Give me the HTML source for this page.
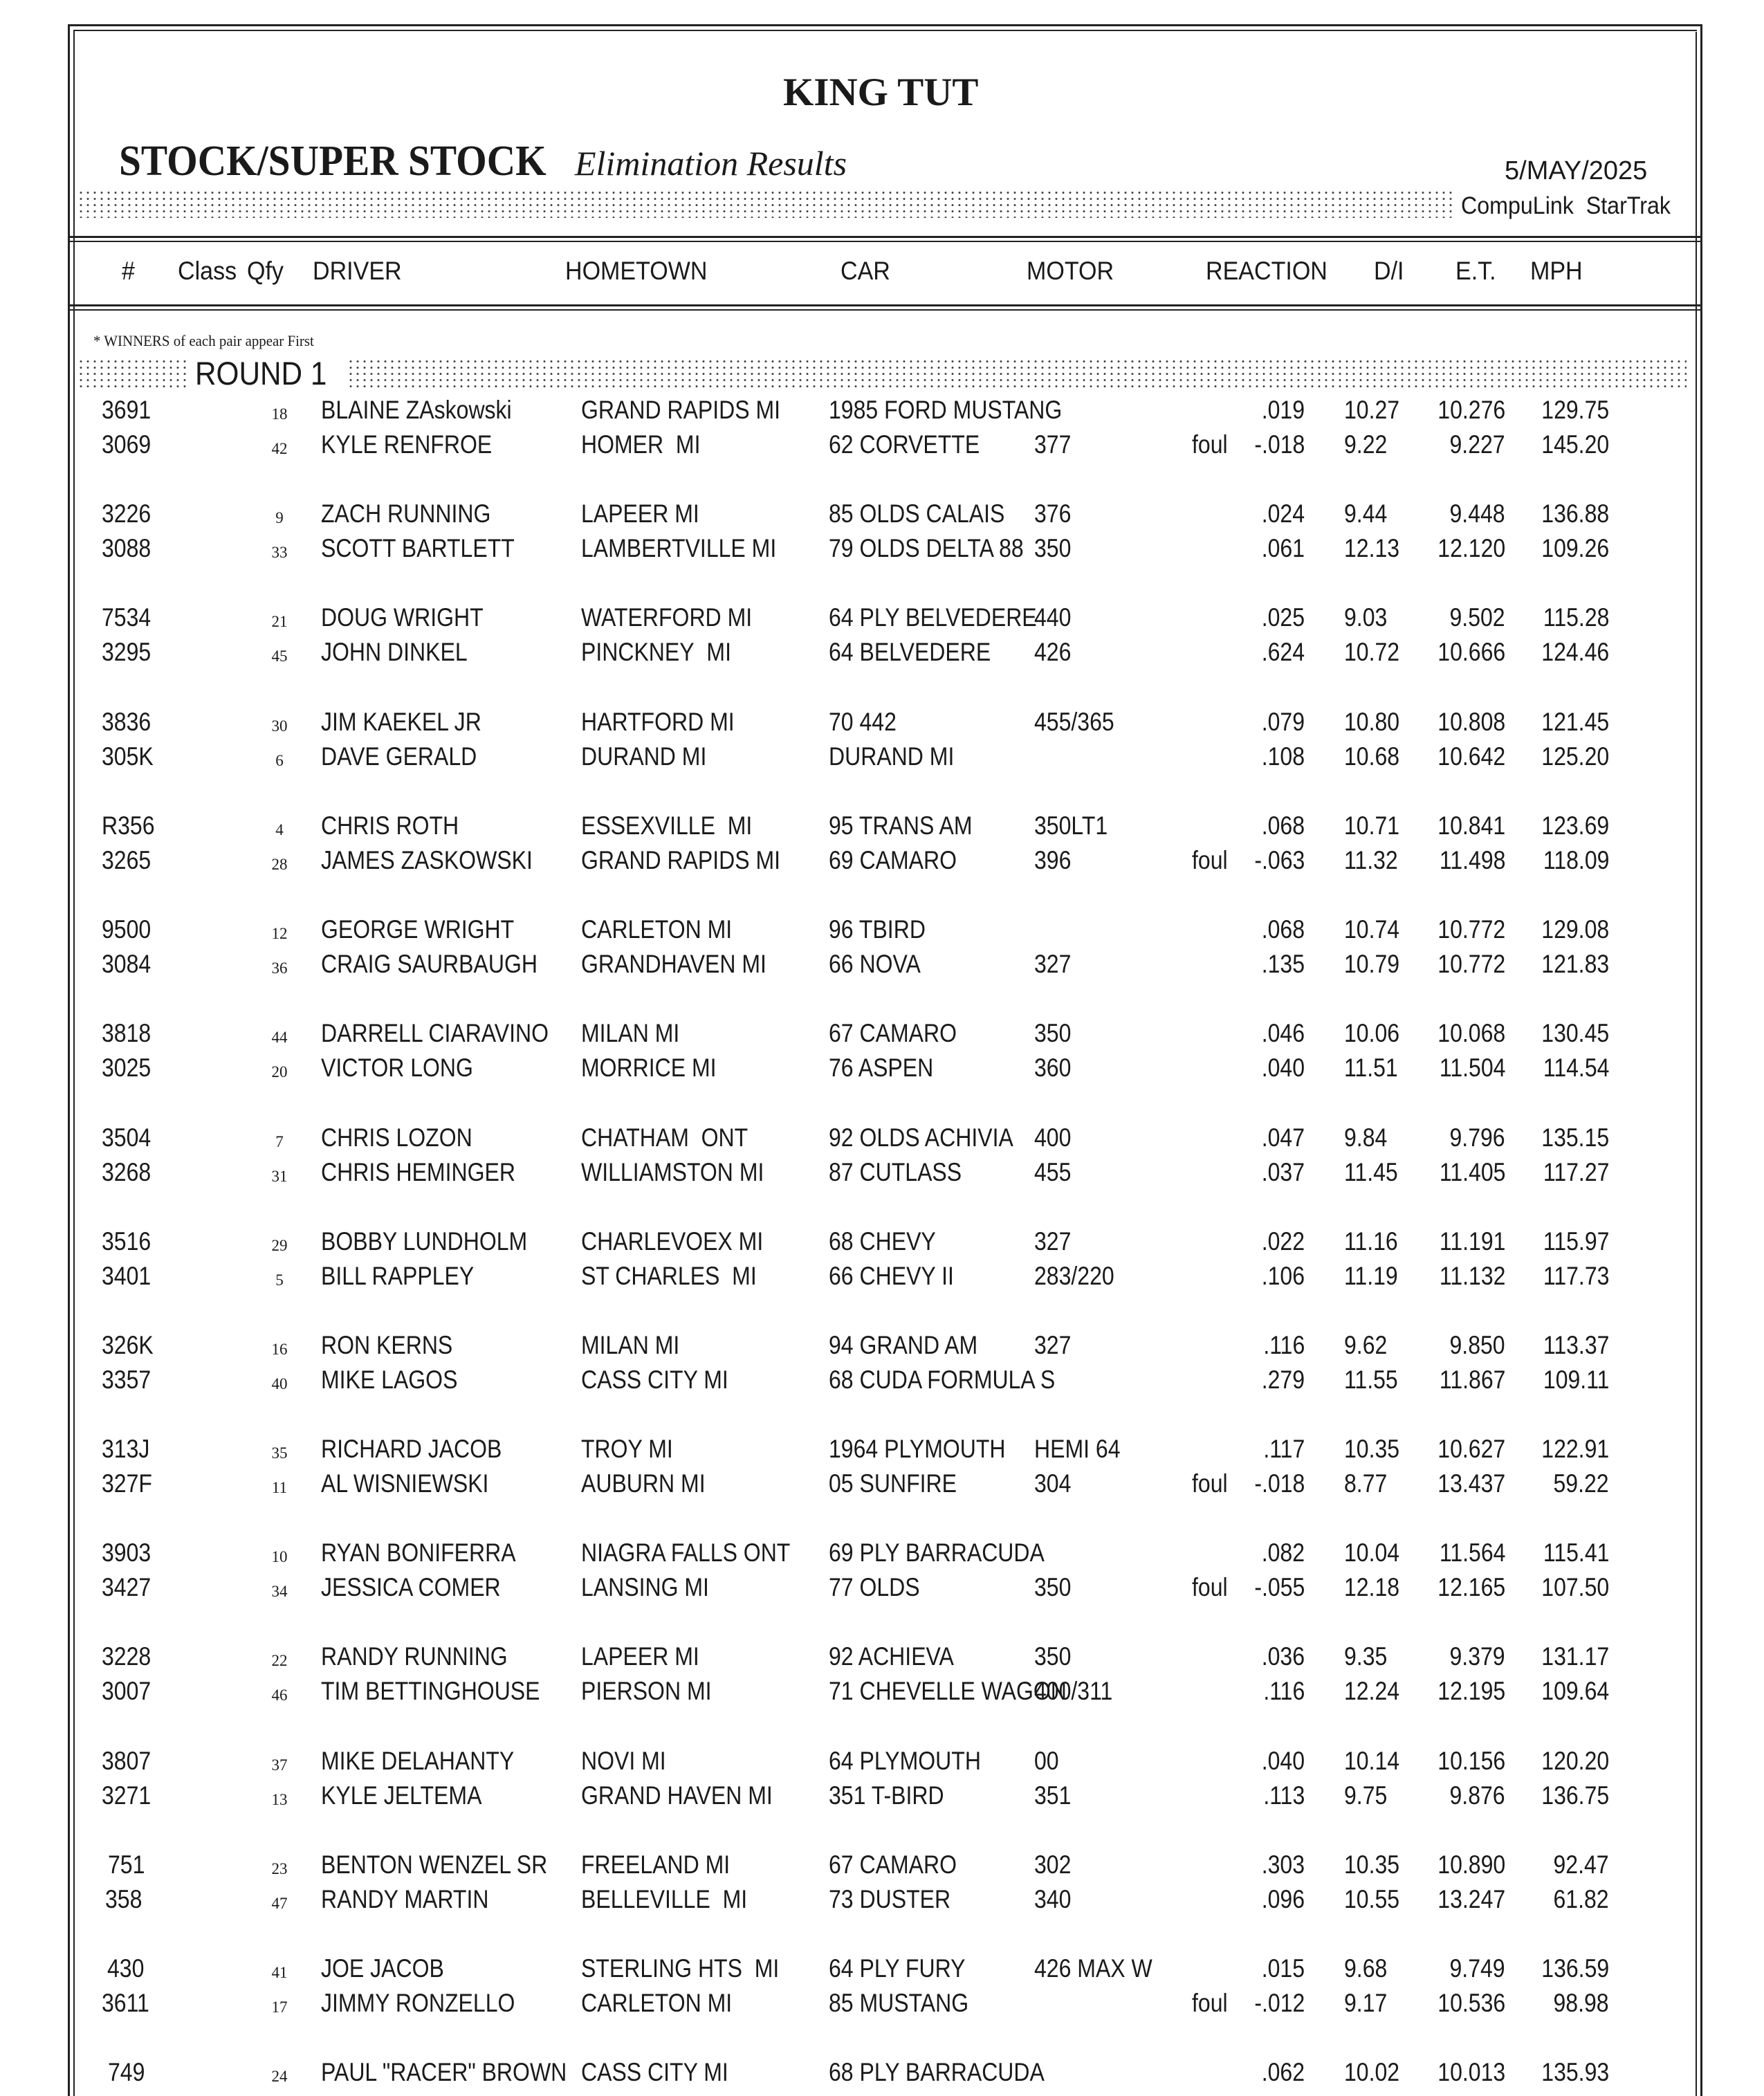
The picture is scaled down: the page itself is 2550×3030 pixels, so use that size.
<!DOCTYPE html>
<html><head><meta charset="utf-8"><style>
body{margin:0;background:#fff}
#p{position:relative;width:2550px;height:3030px;overflow:hidden;background:#fff;font-family:"Liberation Sans",sans-serif;color:#1a1a1a}
.a{position:absolute;white-space:nowrap}
.v{position:absolute;background:#222}
.dots{position:absolute;background-color:#fff;background-image:radial-gradient(circle,#444 1.3px,transparent 1.7px);background-size:10px 9px}
.r{position:absolute;left:0;width:2550px;height:42px;font-size:37px;line-height:42px}
.r span{position:absolute;top:0;display:inline-block;transform:scaleX(.865);transform-origin:left center}
.r .q{font-family:"Liberation Serif",serif;font-size:23px;left:374px;width:60px;text-align:center;transform:none;top:6px}
.r .n{left:147px}.r .d{left:464px}.r .h{left:840px}.r .c{left:1198px}.r .m{left:1495px}.r .f{left:1723px}
.r .re{right:664px;transform-origin:right center}.r .di{left:1943px}.r .et{right:374px;transform-origin:right center}.r .mp{right:224px;transform-origin:right center}
.hd{position:absolute;top:370px;font-size:37px;line-height:44px;transform:scaleX(.92);transform-origin:left center;white-space:nowrap}
</style></head><body><div id="p">
<div class="v" style="left:98px;top:35px;width:3px;height:2995px"></div>
<div class="v" style="left:106px;top:43px;width:2px;height:2987px"></div>
<div class="v" style="left:2458px;top:38px;width:3px;height:2992px"></div>
<div class="v" style="left:2451px;top:46px;width:2px;height:2984px"></div>
<div class="v" style="left:98px;top:35px;width:2363px;height:3px"></div>
<div class="v" style="left:106px;top:43px;width:2347px;height:2px"></div>
<div class="v" style="left:98px;top:341px;width:2363px;height:3px"></div>
<div class="v" style="left:98px;top:348px;width:2363px;height:2px"></div>
<div class="v" style="left:98px;top:440px;width:2363px;height:3px"></div>
<div class="v" style="left:98px;top:447px;width:2363px;height:2px"></div>

<div class="a" style="left:1132px;top:102px;font-family:'Liberation Serif',serif;font-weight:bold;font-size:57px;line-height:64px;">KING TUT</div>
<div class="a" style="left:172px;top:198px;font-family:'Liberation Serif',serif;font-weight:bold;font-size:62px;line-height:70px;transform:scaleX(.925);transform-origin:left">STOCK/SUPER STOCK</div>
<div class="a" style="left:831px;top:208px;font-family:'Liberation Serif',serif;font-style:italic;font-size:50px;line-height:56px;">Elimination Results</div>
<div class="a" style="left:2175px;top:224px;font-size:38px;line-height:46px;">5/MAY/2025</div>
<div class="dots" style="left:112px;top:274px;width:1990px;height:41px"></div>
<div class="a" style="left:2112px;top:276px;font-size:35px;line-height:44px;transform:scaleX(.92);transform-origin:left">CompuLink&nbsp; StarTrak</div>

<div class="hd" style="left:176px">#</div>
<div class="hd" style="left:257px">Class</div>
<div class="hd" style="left:357px">Qfy</div>
<div class="hd" style="left:452px">DRIVER</div>
<div class="hd" style="left:817px">HOMETOWN</div>
<div class="hd" style="left:1215px">CAR</div>
<div class="hd" style="left:1484px">MOTOR</div>
<div class="hd" style="left:1743px">REACTION</div>
<div class="hd" style="left:1986px">D/I</div>
<div class="hd" style="left:2104px">E.T.</div>
<div class="hd" style="left:2212px">MPH</div>

<div class="a" style="left:135px;top:480px;font-family:'Liberation Serif',serif;font-size:22px;line-height:26px;transform:scaleX(.95);transform-origin:left">* WINNERS of each pair appear First</div>
<div class="dots" style="left:112px;top:518px;width:2326px;height:46px"></div>
<div class="a" style="left:274px;top:514px;background:#fff;padding:0 8px;font-size:47px;line-height:52px;"><span style="display:inline-block;transform:scaleX(.9);transform-origin:left">ROUND 1</span></div>

<div class="r" style="top:572px"><span class="n">3691</span><span class="q">18</span><span class="d">BLAINE ZAskowski</span><span class="h">GRAND RAPIDS MI</span><span class="c">1985 FORD MUSTANG</span><span class="re">.019</span><span class="di">10.27</span><span class="et">10.276</span><span class="mp">129.75</span></div>
<div class="r" style="top:622px"><span class="n">3069</span><span class="q">42</span><span class="d">KYLE RENFROE</span><span class="h">HOMER&nbsp; MI</span><span class="c">62 CORVETTE</span><span class="m">377</span><span class="f">foul</span><span class="re">-.018</span><span class="di">9.22</span><span class="et">9.227</span><span class="mp">145.20</span></div>
<div class="r" style="top:722px"><span class="n">3226</span><span class="q">9</span><span class="d">ZACH RUNNING</span><span class="h">LAPEER MI</span><span class="c">85 OLDS CALAIS</span><span class="m">376</span><span class="re">.024</span><span class="di">9.44</span><span class="et">9.448</span><span class="mp">136.88</span></div>
<div class="r" style="top:772px"><span class="n">3088</span><span class="q">33</span><span class="d">SCOTT BARTLETT</span><span class="h">LAMBERTVILLE MI</span><span class="c">79 OLDS DELTA 88</span><span class="m">350</span><span class="re">.061</span><span class="di">12.13</span><span class="et">12.120</span><span class="mp">109.26</span></div>
<div class="r" style="top:872px"><span class="n">7534</span><span class="q">21</span><span class="d">DOUG WRIGHT</span><span class="h">WATERFORD MI</span><span class="c">64 PLY BELVEDERE</span><span class="m">440</span><span class="re">.025</span><span class="di">9.03</span><span class="et">9.502</span><span class="mp">115.28</span></div>
<div class="r" style="top:922px"><span class="n">3295</span><span class="q">45</span><span class="d">JOHN DINKEL</span><span class="h">PINCKNEY&nbsp; MI</span><span class="c">64 BELVEDERE</span><span class="m">426</span><span class="re">.624</span><span class="di">10.72</span><span class="et">10.666</span><span class="mp">124.46</span></div>
<div class="r" style="top:1023px"><span class="n">3836</span><span class="q">30</span><span class="d">JIM KAEKEL JR</span><span class="h">HARTFORD MI</span><span class="c">70 442</span><span class="m">455/365</span><span class="re">.079</span><span class="di">10.80</span><span class="et">10.808</span><span class="mp">121.45</span></div>
<div class="r" style="top:1073px"><span class="n">305K</span><span class="q">6</span><span class="d">DAVE GERALD</span><span class="h">DURAND MI</span><span class="c">DURAND MI</span><span class="re">.108</span><span class="di">10.68</span><span class="et">10.642</span><span class="mp">125.20</span></div>
<div class="r" style="top:1173px"><span class="n">R356</span><span class="q">4</span><span class="d">CHRIS ROTH</span><span class="h">ESSEXVILLE&nbsp; MI</span><span class="c">95 TRANS AM</span><span class="m">350LT1</span><span class="re">.068</span><span class="di">10.71</span><span class="et">10.841</span><span class="mp">123.69</span></div>
<div class="r" style="top:1223px"><span class="n">3265</span><span class="q">28</span><span class="d">JAMES ZASKOWSKI</span><span class="h">GRAND RAPIDS MI</span><span class="c">69 CAMARO</span><span class="m">396</span><span class="f">foul</span><span class="re">-.063</span><span class="di">11.32</span><span class="et">11.498</span><span class="mp">118.09</span></div>
<div class="r" style="top:1323px"><span class="n">9500</span><span class="q">12</span><span class="d">GEORGE WRIGHT</span><span class="h">CARLETON MI</span><span class="c">96 TBIRD</span><span class="re">.068</span><span class="di">10.74</span><span class="et">10.772</span><span class="mp">129.08</span></div>
<div class="r" style="top:1373px"><span class="n">3084</span><span class="q">36</span><span class="d">CRAIG SAURBAUGH</span><span class="h">GRANDHAVEN MI</span><span class="c">66 NOVA</span><span class="m">327</span><span class="re">.135</span><span class="di">10.79</span><span class="et">10.772</span><span class="mp">121.83</span></div>
<div class="r" style="top:1473px"><span class="n">3818</span><span class="q">44</span><span class="d">DARRELL CIARAVINO</span><span class="h">MILAN MI</span><span class="c">67 CAMARO</span><span class="m">350</span><span class="re">.046</span><span class="di">10.06</span><span class="et">10.068</span><span class="mp">130.45</span></div>
<div class="r" style="top:1523px"><span class="n">3025</span><span class="q">20</span><span class="d">VICTOR LONG</span><span class="h">MORRICE MI</span><span class="c">76 ASPEN</span><span class="m">360</span><span class="re">.040</span><span class="di">11.51</span><span class="et">11.504</span><span class="mp">114.54</span></div>
<div class="r" style="top:1624px"><span class="n">3504</span><span class="q">7</span><span class="d">CHRIS LOZON</span><span class="h">CHATHAM&nbsp; ONT</span><span class="c">92 OLDS ACHIVIA</span><span class="m">400</span><span class="re">.047</span><span class="di">9.84</span><span class="et">9.796</span><span class="mp">135.15</span></div>
<div class="r" style="top:1674px"><span class="n">3268</span><span class="q">31</span><span class="d">CHRIS HEMINGER</span><span class="h">WILLIAMSTON MI</span><span class="c">87 CUTLASS</span><span class="m">455</span><span class="re">.037</span><span class="di">11.45</span><span class="et">11.405</span><span class="mp">117.27</span></div>
<div class="r" style="top:1774px"><span class="n">3516</span><span class="q">29</span><span class="d">BOBBY LUNDHOLM</span><span class="h">CHARLEVOEX MI</span><span class="c">68 CHEVY</span><span class="m">327</span><span class="re">.022</span><span class="di">11.16</span><span class="et">11.191</span><span class="mp">115.97</span></div>
<div class="r" style="top:1824px"><span class="n">3401</span><span class="q">5</span><span class="d">BILL RAPPLEY</span><span class="h">ST CHARLES&nbsp; MI</span><span class="c">66 CHEVY II</span><span class="m">283/220</span><span class="re">.106</span><span class="di">11.19</span><span class="et">11.132</span><span class="mp">117.73</span></div>
<div class="r" style="top:1924px"><span class="n">326K</span><span class="q">16</span><span class="d">RON KERNS</span><span class="h">MILAN MI</span><span class="c">94 GRAND AM</span><span class="m">327</span><span class="re">.116</span><span class="di">9.62</span><span class="et">9.850</span><span class="mp">113.37</span></div>
<div class="r" style="top:1974px"><span class="n">3357</span><span class="q">40</span><span class="d">MIKE LAGOS</span><span class="h">CASS CITY MI</span><span class="c">68 CUDA FORMULA S</span><span class="re">.279</span><span class="di">11.55</span><span class="et">11.867</span><span class="mp">109.11</span></div>
<div class="r" style="top:2074px"><span class="n">313J</span><span class="q">35</span><span class="d">RICHARD JACOB</span><span class="h">TROY MI</span><span class="c">1964 PLYMOUTH</span><span class="m">HEMI 64</span><span class="re">.117</span><span class="di">10.35</span><span class="et">10.627</span><span class="mp">122.91</span></div>
<div class="r" style="top:2124px"><span class="n">327F</span><span class="q">11</span><span class="d">AL WISNIEWSKI</span><span class="h">AUBURN MI</span><span class="c">05 SUNFIRE</span><span class="m">304</span><span class="f">foul</span><span class="re">-.018</span><span class="di">8.77</span><span class="et">13.437</span><span class="mp">59.22</span></div>
<div class="r" style="top:2224px"><span class="n">3903</span><span class="q">10</span><span class="d">RYAN BONIFERRA</span><span class="h">NIAGRA FALLS ONT</span><span class="c">69 PLY BARRACUDA</span><span class="re">.082</span><span class="di">10.04</span><span class="et">11.564</span><span class="mp">115.41</span></div>
<div class="r" style="top:2274px"><span class="n">3427</span><span class="q">34</span><span class="d">JESSICA COMER</span><span class="h">LANSING MI</span><span class="c">77 OLDS</span><span class="m">350</span><span class="f">foul</span><span class="re">-.055</span><span class="di">12.18</span><span class="et">12.165</span><span class="mp">107.50</span></div>
<div class="r" style="top:2374px"><span class="n">3228</span><span class="q">22</span><span class="d">RANDY RUNNING</span><span class="h">LAPEER MI</span><span class="c">92 ACHIEVA</span><span class="m">350</span><span class="re">.036</span><span class="di">9.35</span><span class="et">9.379</span><span class="mp">131.17</span></div>
<div class="r" style="top:2424px"><span class="n">3007</span><span class="q">46</span><span class="d">TIM BETTINGHOUSE</span><span class="h">PIERSON MI</span><span class="c">71 CHEVELLE WAGON</span><span class="m">400/311</span><span class="re">.116</span><span class="di">12.24</span><span class="et">12.195</span><span class="mp">109.64</span></div>
<div class="r" style="top:2525px"><span class="n">3807</span><span class="q">37</span><span class="d">MIKE DELAHANTY</span><span class="h">NOVI MI</span><span class="c">64 PLYMOUTH</span><span class="m">00</span><span class="re">.040</span><span class="di">10.14</span><span class="et">10.156</span><span class="mp">120.20</span></div>
<div class="r" style="top:2575px"><span class="n">3271</span><span class="q">13</span><span class="d">KYLE JELTEMA</span><span class="h">GRAND HAVEN MI</span><span class="c">351 T-BIRD</span><span class="m">351</span><span class="re">.113</span><span class="di">9.75</span><span class="et">9.876</span><span class="mp">136.75</span></div>
<div class="r" style="top:2675px"><span class="n" style="left:156px">751</span><span class="q">23</span><span class="d">BENTON WENZEL SR</span><span class="h">FREELAND MI</span><span class="c">67 CAMARO</span><span class="m">302</span><span class="re">.303</span><span class="di">10.35</span><span class="et">10.890</span><span class="mp">92.47</span></div>
<div class="r" style="top:2725px"><span class="n" style="left:152px">358</span><span class="q">47</span><span class="d">RANDY MARTIN</span><span class="h">BELLEVILLE&nbsp; MI</span><span class="c">73 DUSTER</span><span class="m">340</span><span class="re">.096</span><span class="di">10.55</span><span class="et">13.247</span><span class="mp">61.82</span></div>
<div class="r" style="top:2825px"><span class="n" style="left:155px">430</span><span class="q">41</span><span class="d">JOE JACOB</span><span class="h">STERLING HTS&nbsp; MI</span><span class="c">64 PLY FURY</span><span class="m">426 MAX W</span><span class="re">.015</span><span class="di">9.68</span><span class="et">9.749</span><span class="mp">136.59</span></div>
<div class="r" style="top:2875px"><span class="n">3611</span><span class="q">17</span><span class="d">JIMMY RONZELLO</span><span class="h">CARLETON MI</span><span class="c">85 MUSTANG</span><span class="f">foul</span><span class="re">-.012</span><span class="di">9.17</span><span class="et">10.536</span><span class="mp">98.98</span></div>
<div class="r" style="top:2975px"><span class="n" style="left:156px">749</span><span class="q">24</span><span class="d">PAUL "RACER" BROWN</span><span class="h">CASS CITY MI</span><span class="c">68 PLY BARRACUDA</span><span class="re">.062</span><span class="di">10.02</span><span class="et">10.013</span><span class="mp">135.93</span></div>
</div></body></html>
